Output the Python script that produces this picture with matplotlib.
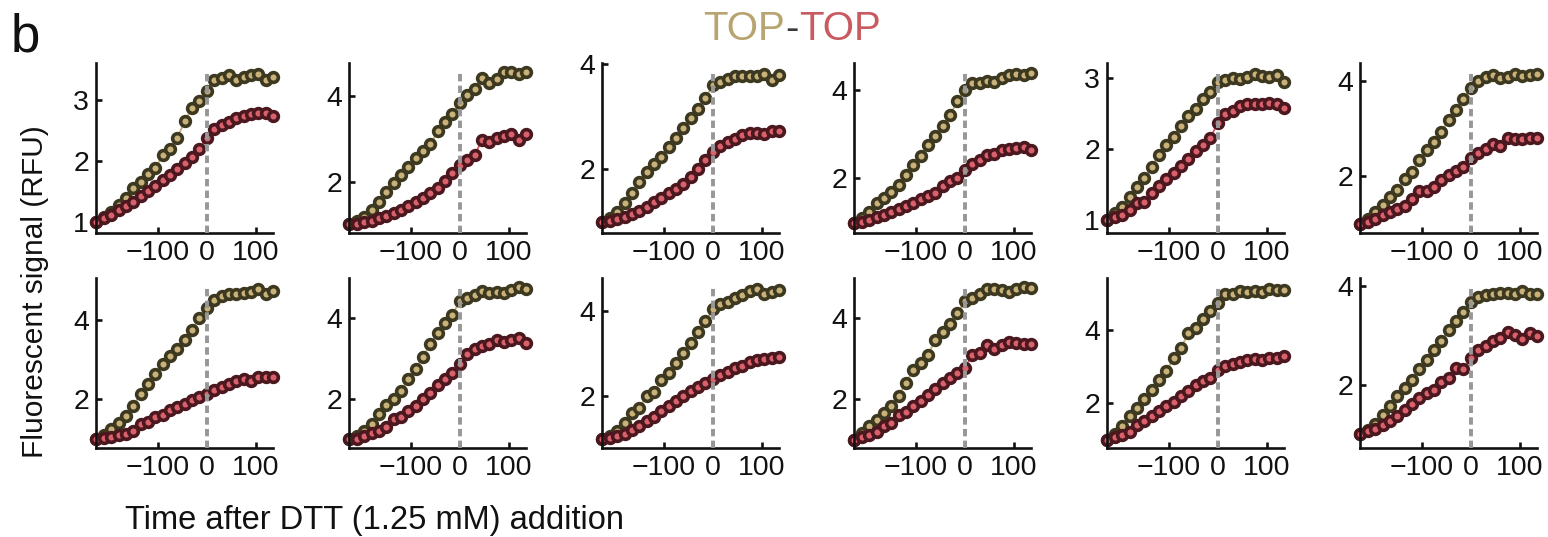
import matplotlib
matplotlib.use("Agg")
import matplotlib.pyplot as plt

plt.rcParams["font.family"] = ["Liberation Sans", "DejaVu Sans"]

# minutes relative to DTT addition
time_min = [-225, -210, -195, -180, -165, -150, -135, -120, -105, -90, -75, -60, -45,
            -30, -15, 0, 15, 30, 45, 60, 75, 90, 105, 120, 135]

# TOP (tan) traces, one list per panel, row by row
tan_traces = [
    [1.0, 1.08, 1.17, 1.27, 1.40, 1.55, 1.65, 1.79, 1.88, 2.09, 2.20, 2.38, 2.65, 2.86, 2.98,
     3.15, 3.32, 3.36, 3.40, 3.33, 3.37, 3.41, 3.42, 3.33, 3.37],
    [1.0, 1.08, 1.18, 1.33, 1.53, 1.75, 1.96, 2.15, 2.35, 2.55, 2.72, 2.88, 3.18, 3.41, 3.58,
     3.84, 4.04, 4.16, 4.43, 4.31, 4.41, 4.56, 4.56, 4.53, 4.58],
    [1.0, 1.08, 1.20, 1.36, 1.56, 1.76, 1.96, 2.10, 2.24, 2.42, 2.60, 2.78, 2.97, 3.15, 3.34,
     3.60, 3.66, 3.70, 3.76, 3.76, 3.76, 3.77, 3.80, 3.69, 3.79],
    [1.0, 1.10, 1.25, 1.45, 1.55, 1.70, 1.85, 2.08, 2.30, 2.50, 2.75, 2.95, 3.17, 3.43, 3.74,
     4.00, 4.15, 4.15, 4.20, 4.17, 4.27, 4.32, 4.36, 4.32, 4.38],
    [1.0, 1.10, 1.19, 1.33, 1.47, 1.59, 1.75, 1.92, 2.06, 2.17, 2.33, 2.46, 2.56, 2.71, 2.80,
     2.94, 2.97, 3.00, 2.98, 3.02, 3.05, 3.03, 3.02, 3.04, 2.94],
    [1.0, 1.10, 1.25, 1.40, 1.56, 1.70, 1.93, 2.09, 2.34, 2.55, 2.73, 2.94, 3.19, 3.40, 3.63,
     3.86, 4.02, 4.10, 4.13, 4.07, 4.10, 4.16, 4.12, 4.13, 4.15],
    [1.0, 1.10, 1.24, 1.40, 1.58, 1.83, 2.13, 2.38, 2.63, 2.88, 3.08, 3.28, 3.51, 3.76, 4.06,
     4.31, 4.52, 4.62, 4.66, 4.67, 4.69, 4.71, 4.78, 4.66, 4.73],
    [1.0, 1.08, 1.20, 1.39, 1.63, 1.84, 2.00, 2.20, 2.49, 2.73, 3.04, 3.35, 3.63, 3.88, 4.08,
     4.41, 4.48, 4.56, 4.66, 4.62, 4.63, 4.60, 4.69, 4.76, 4.72],
    [1.0, 1.06, 1.18, 1.37, 1.60, 1.73, 2.00, 2.09, 2.39, 2.55, 2.78, 3.02, 3.24, 3.50, 3.76,
     4.04, 4.16, 4.22, 4.30, 4.38, 4.48, 4.52, 4.40, 4.46, 4.50],
    [1.0, 1.15, 1.33, 1.49, 1.65, 1.82, 2.08, 2.40, 2.72, 2.90, 3.09, 3.47, 3.65, 3.86, 4.12,
     4.41, 4.50, 4.60, 4.73, 4.72, 4.70, 4.65, 4.73, 4.78, 4.75],
    [1.0, 1.15, 1.36, 1.64, 1.86, 2.11, 2.35, 2.62, 2.86, 3.23, 3.50, 3.91, 4.05, 4.29, 4.50,
     4.73, 4.96, 4.98, 5.05, 5.03, 5.05, 5.02, 5.12, 5.08, 5.08],
    [1.0, 1.08, 1.20, 1.39, 1.56, 1.76, 1.93, 2.10, 2.31, 2.51, 2.71, 2.88, 3.12, 3.29, 3.47,
     3.69, 3.79, 3.83, 3.85, 3.87, 3.87, 3.85, 3.90, 3.85, 3.84],
]

# TOP (red) traces
red_traces = [
    [1.0, 1.06, 1.12, 1.19, 1.26, 1.33, 1.42, 1.50, 1.59, 1.68, 1.77, 1.86, 1.96, 2.07, 2.20,
     2.38, 2.52, 2.58, 2.64, 2.70, 2.74, 2.76, 2.78, 2.78, 2.73],
    [1.0, 1.02, 1.05, 1.09, 1.14, 1.20, 1.27, 1.35, 1.43, 1.52, 1.62, 1.74, 1.86, 2.02, 2.20,
     2.40, 2.50, 2.62, 2.97, 2.92, 3.02, 3.06, 3.12, 2.98, 3.12],
    [1.0, 1.03, 1.07, 1.11, 1.16, 1.22, 1.30, 1.38, 1.46, 1.55, 1.63, 1.73, 1.86, 2.00, 2.18,
     2.33, 2.45, 2.52, 2.58, 2.65, 2.68, 2.68, 2.66, 2.72, 2.72],
    [1.0, 1.02, 1.06, 1.12, 1.18, 1.24, 1.31, 1.38, 1.45, 1.53, 1.60, 1.67, 1.82, 1.95, 2.00,
     2.20, 2.32, 2.42, 2.52, 2.55, 2.64, 2.66, 2.68, 2.70, 2.63],
    [1.0, 1.04, 1.08, 1.15, 1.24, 1.25, 1.38, 1.48, 1.58, 1.67, 1.76, 1.86, 1.97, 2.06, 2.16,
     2.37, 2.50, 2.54, 2.60, 2.63, 2.64, 2.64, 2.65, 2.64, 2.58],
    [1.0, 1.04, 1.10, 1.17, 1.24, 1.30, 1.38, 1.52, 1.68, 1.68, 1.78, 1.92, 2.02, 2.10, 2.20,
     2.38, 2.48, 2.58, 2.68, 2.64, 2.80, 2.78, 2.78, 2.80, 2.80],
    [1.0, 1.02, 1.05, 1.10, 1.12, 1.20, 1.36, 1.42, 1.55, 1.60, 1.72, 1.80, 1.88, 1.98, 2.05,
     2.14, 2.22, 2.30, 2.38, 2.45, 2.50, 2.47, 2.55, 2.55, 2.55],
    [1.0, 1.00, 1.08, 1.15, 1.22, 1.30, 1.50, 1.55, 1.70, 1.82, 2.00, 2.15, 2.35, 2.50, 2.65,
     2.85, 3.10, 3.22, 3.31, 3.36, 3.45, 3.41, 3.45, 3.50, 3.38],
    [1.0, 1.02, 1.06, 1.12, 1.20, 1.30, 1.41, 1.52, 1.65, 1.76, 1.88, 2.00, 2.12, 2.22, 2.31,
     2.40, 2.50, 2.57, 2.66, 2.72, 2.80, 2.85, 2.87, 2.90, 2.92],
    [1.0, 1.07, 1.12, 1.18, 1.33, 1.42, 1.61, 1.68, 1.82, 1.95, 2.11, 2.25, 2.40, 2.52, 2.64,
     2.77, 3.08, 3.14, 3.34, 3.24, 3.34, 3.40, 3.38, 3.36, 3.35],
    [1.0, 1.07, 1.13, 1.20, 1.41, 1.50, 1.64, 1.78, 1.91, 2.03, 2.18, 2.32, 2.50, 2.60, 2.68,
     2.91, 3.00, 3.06, 3.13, 3.17, 3.20, 3.16, 3.22, 3.24, 3.27],
    [1.0, 1.05, 1.10, 1.17, 1.25, 1.36, 1.49, 1.60, 1.73, 1.82, 1.90, 2.05, 2.14, 2.34, 2.32,
     2.55, 2.71, 2.78, 2.88, 2.95, 3.07, 3.02, 2.92, 3.05, 2.98],
]

y_limits = [
    (0.82, 3.60), (0.80, 4.78), (0.80, 4.01), (0.77, 4.60), (0.82, 3.21), (0.80, 4.39),
    (0.76, 5.07), (0.79, 4.98), (0.78, 4.78), (0.79, 4.99), (0.77, 5.41), (0.71, 4.17),
]

x_ticks = [-100, 0, 100]
x_tick_labels = ["\u2212100", "0", "100"]

TAN_FACE = "#c9b27a"
TAN_EDGE = "#3d3820"
RED_FACE = "#d9616c"
RED_EDGE = "#4a181e"
INK = "#111111"

W, H = 1548, 537
fig = plt.figure(figsize=(W / 100, H / 100), dpi=100)

col_left = [96, 349, 602, 854, 1107, 1360]
row_top = [63, 278]
ax_w, ax_h = 177, 170

for i, (tan, red) in enumerate(zip(tan_traces, red_traces)):
    r, c = divmod(i, 6)
    ax = fig.add_axes([col_left[c] / W, 1 - (row_top[r] + ax_h) / H, ax_w / W, ax_h / H])
    ax.plot(time_min, tan, "-o", color=TAN_FACE, lw=1.4, ms=7.0, mfc=TAN_FACE,
            mec=TAN_EDGE, mew=2.6, zorder=2, clip_on=False)
    ax.plot(time_min, red, "-o", color=RED_FACE, lw=1.4, ms=7.0, mfc=RED_FACE,
            mec=RED_EDGE, mew=2.6, zorder=2.5, clip_on=False)
    ax.axvline(0, ymax=0.94, color="#979797", lw=2.8, ls=(0, (1.9, 1.1)), zorder=3)
    ax.set_xlim(-226, 135)
    ax.set_ylim(*y_limits[i])
    ax.set_xticks(x_ticks)
    ax.set_xticklabels(x_tick_labels)
    ax.set_yticks([1, 2, 3] if y_limits[i][1] < 3.65 else [2, 4])
    for side in ("top", "right"):
        ax.spines[side].set_visible(False)
    for side in ("left", "bottom"):
        ax.spines[side].set_linewidth(1.9)
        ax.spines[side].set_color(INK)
    ax.tick_params(direction="in", length=4, width=1.9, labelsize=20.5, pad=5,
                   colors=INK)

fig.text(35 / W, 1 - 292 / H, "Fluorescent signal (RFU)", rotation=90, ha="center",
         va="center", fontsize=21.5, color=INK)
fig.text(125 / W, 1 - 520 / H, "Time after DTT (1.25 mM) addition", ha="left",
         va="center", fontsize=23.5, color=INK)
fig.text(11 / W, 1 - 37 / H, "b", ha="left", va="center", fontsize=38, color=INK)

# multi-coloured title "TOP-TOP", laid out piece by piece
pieces = [("TOP", "#b8a470"), ("-", "#3a3a3a"), ("TOP", "#c85a60")]
renderer = fig.canvas.get_renderer()
texts = [fig.text(0, 1 - 29 / H, s, color=col, fontsize=29, ha="left", va="center")
         for s, col in pieces]
widths = [t.get_window_extent(renderer).width for t in texts]
x = 792 - sum(widths) / 2
for t, w in zip(texts, widths):
    t.set_x(x / W)
    x += w

fig.savefig("out.png", dpi=100)
